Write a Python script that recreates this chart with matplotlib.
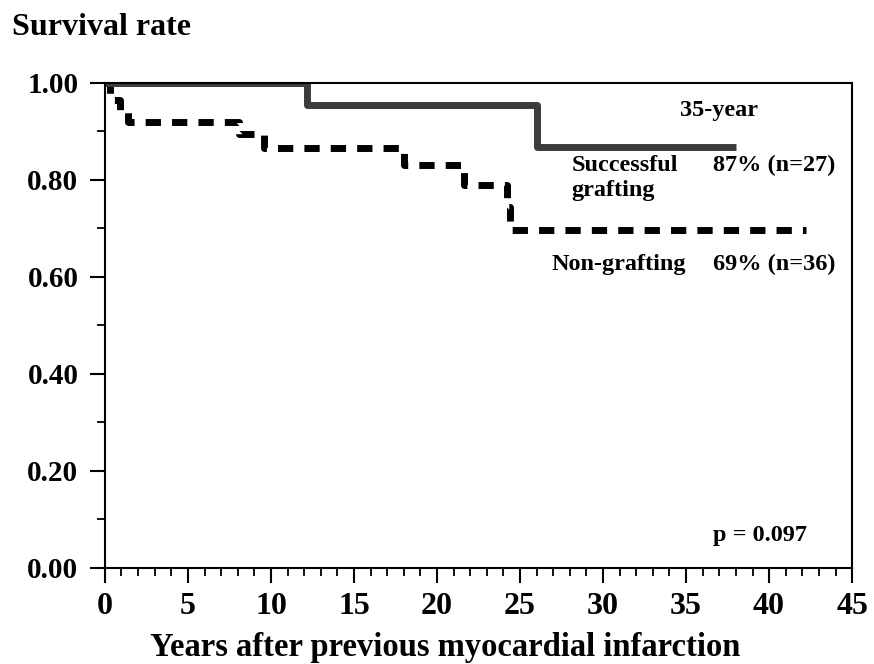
import numpy as np
import matplotlib.pyplot as plt
from matplotlib.ticker import MultipleLocator, FormatStrFormatter

plt.rcParams['font.family'] = ['Liberation Serif', 'DejaVu Serif']
plt.rcParams['font.weight'] = 'bold'

# Kaplan-Meier steps
succ_years = [0, 12.2, 26.0, 38.0]
succ_surv = [1.0, 0.955, 0.868, 0.868]

non_years = [0, 0.3, 0.9, 1.4, 8.1, 9.6, 18.0, 21.6, 24.2, 24.4, 42.2]
non_surv = [1.0, 0.965, 0.944, 0.92, 0.894, 0.866, 0.831, 0.79, 0.745, 0.697, 0.697]

fig = plt.figure(figsize=(8.74, 6.64), dpi=100)
ax = fig.add_axes([0.120, 0.1446, 0.855, 0.7304])

ax.step(non_years, non_surv, where='post', color='black', lw=5.0,
        linestyle=(0, (2.2, 1.6)), dash_capstyle='butt', solid_capstyle='butt')
ax.step(succ_years, succ_surv, where='post', color='#3c3c3c', lw=5.0,
        solid_capstyle='butt')

ax.set_xlim(0, 45)
ax.set_ylim(0, 1.0)
ax.xaxis.set_major_locator(MultipleLocator(5))
ax.xaxis.set_minor_locator(MultipleLocator(1))
ax.yaxis.set_major_locator(MultipleLocator(0.2))
ax.yaxis.set_minor_locator(MultipleLocator(0.1))
ax.yaxis.set_major_formatter(FormatStrFormatter('%.2f'))

ax.tick_params(axis='x', which='major', direction='out', length=11, width=1.5,
               labelsize=23, pad=6)
ax.tick_params(axis='x', which='minor', direction='out', length=6, width=1.3)
ax.tick_params(axis='y', which='major', direction='out', length=11, width=1.5,
               labelsize=21, pad=8)
ax.tick_params(axis='y', which='minor', direction='out', length=6, width=1.3)
for s in ax.spines.values():
    s.set_linewidth(1.5)

ax.set_xlabel('Years after previous myocardial infarction', fontsize=23.5,
              fontweight='bold', labelpad=8)
ax.xaxis.label.set_x(0.455)
fig.text(0.014, 0.959, 'Survival rate', fontsize=23, fontweight='bold',
         ha='left', va='center')

txt = dict(fontsize=17.5, fontweight='bold', va='center', ha='left')
ax.text(37.0, 0.944, '35-year', fontsize=17.5, fontweight='bold', va='center', ha='center')
ax.text(28.1, 0.852, 'Successful\ngrafting', fontsize=17.5, fontweight='bold',
        va='top', ha='left', linespacing=1.25)
ax.text(36.6, 0.831, '87% (n=27)', **txt)
ax.text(26.9, 0.625, 'Non-grafting', **txt)
ax.text(36.6, 0.625, '69% (n=36)', **txt)
ax.text(36.6, 0.068, 'p = 0.097', **txt)

fig.savefig('out.png', dpi=100)
